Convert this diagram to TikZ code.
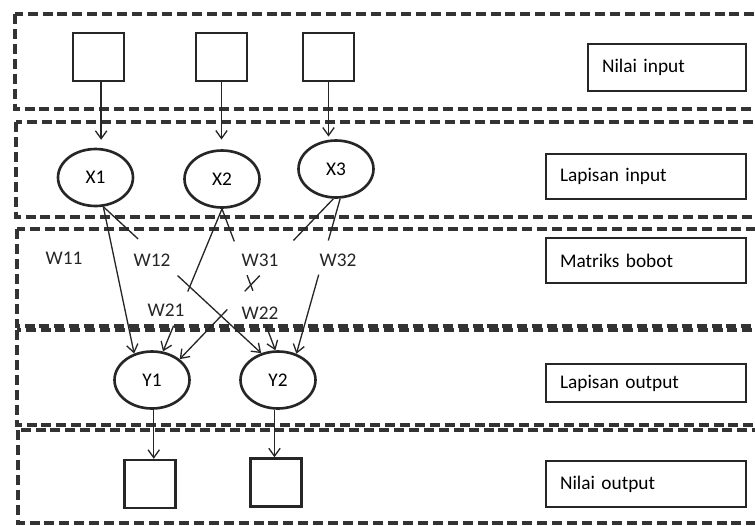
\documentclass[tikz,border=0pt]{standalone}
\usepackage{fontspec}
\setmainfont{Carlito}
\usetikzlibrary{calc,arrows.meta,shapes.geometric}

\begin{document}
\begin{tikzpicture}[x=0.02cm, y=-0.02cm,
    font=\fontsize{11}{13}\selectfont,
    >={Straight Barb[length=4.5pt,width=6.5pt]},
    band/.style = {draw=black!80, line width=1.9pt, dash pattern=on 5.7pt off 2.8pt},
    valbox/.style = {draw=black!85, line width=1.4pt, minimum width=1.02cm, minimum height=0.96cm, inner sep=0pt},
    neuron/.style = {draw=black!85, ellipse, line width=1.5pt, minimum width=1.5cm, minimum height=1.14cm, inner sep=0pt},
    layername/.style = {draw=black!85, line width=0.8pt, align=left, inner xsep=0.28cm, inner ysep=0pt},
    link/.style = {draw=black!85, line width=0.75pt}]
    \useasboundingbox (0,0) rectangle (755,525);
    \clip (0,0) rectangle (755,525);

    % Layer bands
    \draw[band] (15,14) rectangle (790,109);
    \draw[band] (16,122) rectangle (790,217);
    \draw[band] (17,229) rectangle (790,326);
    \draw[band] (17,330) rectangle (790,425);
    \draw[band] (18,430) rectangle (790,523);

    % Input values
    \node[valbox] (in1) at (98.5,57) {};
    \node[valbox] (in2) at (221.5,57) {};
    \node[valbox] (in3) at (328.5,57) {};

    % Input layer
    \node[neuron] (X1) at (95.5,177.5) {X1};
    \node[neuron] (X2) at (222,179) {X2};
    \node[neuron] (X3) at (336,169) {X3};

    % Output layer
    \node[neuron] (Y1) at (152,380) {Y1};
    \node[neuron] (Y2) at (278,380) {Y2};

    % Output values
    \node[valbox] (out1) at (150,484) {};
    \node[valbox] (out2) at (276,482.5) {};

    % Inputs into X
    \draw[link,->,shorten >=4.5pt] ([xshift=1.5]in1.south) -- ([xshift=1.5]in1.south |- X1.north);
    \draw[link,->,shorten >=5.5pt] (in2.south) -- (in2.south |- X2.north);
    \draw[link,->,shorten >=1.5pt] (in3.south) -- (in3.south |- X3.north);

    % Links from X1
    \draw[link,->] (X1.-75) -- (Y1.124);
    \draw[link] (X1.-75) -- ($(X1.-75)!0.22!(Y2.122)$);
    \draw[link,->] ($(X1.-75)!0.47!(Y2.122)$) -- (Y2.122);
    % Links from X2
    \draw[link] (X2.south) -- ($(X2.south)!0.58!(Y1.69)$);
    \draw[link,->] ($(X2.south)!0.82!(Y1.69)$) -- (Y1.69);
    \draw[link] (X2.south) -- ($(X2.south)!0.23!(Y2.95)$);
    \draw[link] ($(X2.south)!0.469!(Y2.95)$) -- ($(X2.south)!0.579!(Y2.95)$);
    \draw[link,->] ($(X2.south)!0.83!(Y2.95)$) -- (Y2.95);
    % Links from X3
    \draw[link] (X3.-95) -- ($(X3.-95)!0.26!(Y1.37)$);
    \draw[link] ($(X3.-95)!0.479!(Y1.37)$) -- ($(X3.-95)!0.577!(Y1.37)$);
    \draw[link,->] ($(X3.-95)!0.69!(Y1.37)$) -- (Y1.37);
    \draw[link] (X3.-82) -- ($(X3.-82)!0.27!(Y2.55)$);
    \draw[link,->] ($(X3.-82)!0.49!(Y2.55)$) -- (Y2.55);

    % Y into outputs
    \draw[link,->] ([xshift=1]Y1.south) -- ([xshift=1]Y1.south |- out1.north);
    \draw[link,->] ([xshift=-2]Y2.south) -- ([xshift=-2]Y2.south |- out2.north);

    % Weights
    \node[text=black!85] (w11) at (64,258) {W11};
    \node[text=black!85] (w12) at (152,260) {W12};
    \node[text=black!85] (w31) at (260,260) {W31};
    \node[text=black!85] (w32) at (338,260) {W32};
    \node[text=black!85] (w21) at (166,310) {W21};
    \node[text=black!85] (w22) at (260,313) {W22};

    % Layer names
    \node[layername, text width=2.6cm, minimum height=0.94cm] (nin) at (667,67.5) {Nilai input};
    \node[layername, text width=3.44cm, minimum height=0.9cm] (lin) at (646,176.5) {Lapisan input};
    \node[layername, text width=3.44cm, minimum height=0.9cm] (mat) at (646,260.5) {Matriks bobot};
    \node[layername, text width=3.44cm, minimum height=0.76cm] (lout) at (646,383) {Lapisan output};
    \node[layername, text width=3.44cm, minimum height=0.92cm] (nout) at (646,484) {Nilai output};
\end{tikzpicture}
\end{document}
